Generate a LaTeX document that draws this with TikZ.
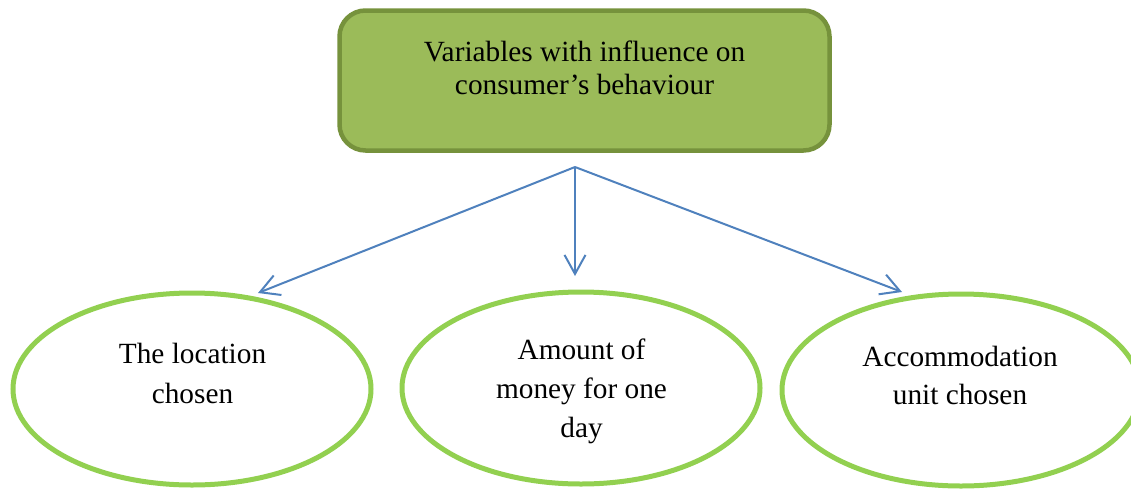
\documentclass[tikz,border=0pt]{standalone}
\usepackage{fontspec}
\setmainfont{Liberation Serif}
\usetikzlibrary{shapes.geometric,arrows.meta}
\definecolor{boxfill}{HTML}{9BBB59}
\definecolor{boxedge}{HTML}{76923C}
\definecolor{ovaledge}{HTML}{92D050}
\definecolor{arrowblue}{HTML}{4F81BD}
\begin{document}
\begin{tikzpicture}[x=1pt,y=-1pt,
  headbox/.style={draw=boxedge, fill=boxfill, line width=4.5pt, rounded corners=26pt,
    minimum width=490pt, minimum height=140pt, inner sep=0pt, outer sep=0pt},
  oval/.style={ellipse, draw=ovaledge, line width=5pt, fill=white,
    minimum width=358pt, minimum height=192pt, inner sep=0pt},
  txt/.style={anchor=base, inner sep=0pt, font=\fontsize{29.3}{#1}\selectfont},
  txt/.default=33,
  link/.style={draw=arrowblue, line width=2pt,
    -{Straight Barb[length=19pt,width=21pt,line width=2pt]}}
]
\useasboundingbox (0,0) rectangle (1131,490);

% top box
\node[headbox] (head) at (584.5,80.5) {};
\node[txt] (headtext) at (584.5,61)
  {\begin{tabular}[t]{@{}c@{}}Variables with influence on\\consumer’s behaviour\end{tabular}};

% three outcomes
\node[oval] (loc) at (192,389) {};
\node[oval] (money) at (581,388) {};
\node[oval] (accom) at (961,390) {};

\node[txt=40] (loctext) at (192.5,363)
  {\begin{tabular}[t]{@{}c@{}}The location\\chosen\end{tabular}};
\node[txt=39] (moneytext) at (581.5,359)
  {\begin{tabular}[t]{@{}c@{}}Amount of\\money for one\\day\end{tabular}};
\node[txt=38] (accomtext) at (960,366)
  {\begin{tabular}[t]{@{}c@{}}Accommodation\\unit chosen\end{tabular}};

% connectors
\coordinate (hub) at (575,167);
\coordinate (tipL) at (258,293);
\coordinate (tipM) at (575,276);
\coordinate (tipR) at (902,292);
\draw[link] (hub) -- (tipL);
\draw[link] (hub) -- (tipM);
\draw[link] (hub) -- (tipR);
\end{tikzpicture}
\end{document}
